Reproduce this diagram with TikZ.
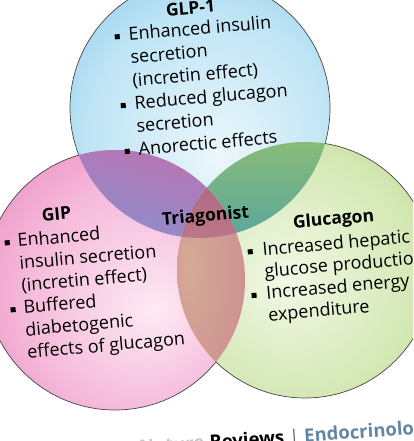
\documentclass[tikz,border=0pt]{standalone}
\usepackage{fontspec}
\setmainfont{Open Sans}
\definecolor{bA}{RGB}{236,247,252}
\definecolor{bB}{RGB}{190,228,245}
\definecolor{bC}{RGB}{120,192,230}
\definecolor{bD}{RGB}{64,155,210}
\definecolor{pA}{RGB}{253,234,244}
\definecolor{pB}{RGB}{245,185,218}
\definecolor{pC}{RGB}{234,125,184}
\definecolor{pD}{RGB}{215,78,152}
\definecolor{gA}{RGB}{242,248,230}
\definecolor{gB}{RGB}{212,232,180}
\definecolor{gC}{RGB}{172,208,124}
\definecolor{gD}{RGB}{135,182,80}
\definecolor{steel}{RGB}{98,134,164}
% overlap tints
\definecolor{bpT}{RGB}{190,112,176}
\definecolor{bpB}{RGB}{136,146,206}
\definecolor{bgT}{RGB}{140,188,118}
\definecolor{bgB}{RGB}{86,166,160}
\definecolor{pgA}{RGB}{212,170,150}
\definecolor{pgB}{RGB}{207,150,146}
\definecolor{pgC}{RGB}{208,112,148}
\definecolor{trT}{RGB}{172,104,130}
\definecolor{trB}{RGB}{190,120,138}
\pgfdeclareradialshading{bluesh}{\pgfpoint{4bp}{-10bp}}{color(0bp)=(bA); color(24bp)=(bB); color(42bp)=(bC); color(50bp)=(bD)}
\pgfdeclareradialshading{pinksh}{\pgfpoint{8bp}{-6bp}}{color(0bp)=(pA); color(22bp)=(pB); color(40bp)=(pC); color(50bp)=(pD)}
\pgfdeclareradialshading{greensh}{\pgfpoint{-4bp}{-2bp}}{color(0bp)=(gA); color(24bp)=(gB); color(42bp)=(gC); color(50bp)=(gD)}
\pgfdeclareradialshading{pgsh}{\pgfpoint{-12bp}{2bp}}{color(0bp)=(pgA); color(22bp)=(pgB); color(44bp)=(pgC); color(50bp)=(pgC)}
\newcommand{\bul}{\rule[2.5pt]{5pt}{5pt}}
\begin{document}
\begin{tikzpicture}[x=1pt,y=1pt,
  body/.style={font=\fontsize{18}{#1}\selectfont, rotate=5, inner sep=0pt, anchor=base west},
  ttl/.style={font=\bfseries\fontsize{17.5}{20}\selectfont, rotate=5, inner sep=0pt, anchor=base},
  foot/.style={font=\fontsize{18.5}{22}\selectfont, rotate=4, inner sep=0pt},
  rim/.style={draw=black!72, line width=0.7pt}]
\useasboundingbox (0,0) rectangle (413,441);
\clip (0,0) rectangle (413,441);
\coordinate (cB) at (200,333);
\coordinate (cP) at (115,161);
\coordinate (cG) at (305,171);
% single circles
\shade[shading=bluesh] (cB) circle[radius=130pt];
\shade[shading=greensh] (cG) circle[radius=128pt];
\shade[shading=pinksh] (cP) circle[radius=130pt];
% blue-green lens
\begin{scope}
  \clip (cG) circle[radius=128pt];
  \clip (cB) circle[radius=130pt];
  \shade[top color=bgT, bottom color=bgB] (170,196) rectangle (340,306);
\end{scope}
% blue-pink lens
\begin{scope}
  \clip (cP) circle[radius=130pt];
  \clip (cB) circle[radius=130pt];
  \shade[top color=bpT, bottom color=bpB, shading angle=-15] (60,195) rectangle (250,295);
\end{scope}
% pink-green lens
\begin{scope}
  \clip (cP) circle[radius=130pt];
  \clip (cG) circle[radius=128pt];
  \shade[shading=pgsh] (165,40) rectangle (255,290);
\end{scope}
% triple region
\begin{scope}
  \clip (cP) circle[radius=130pt];
  \clip (cG) circle[radius=128pt];
  \clip (cB) circle[radius=130pt];
  \shade[top color=trT, bottom color=trB] (170,195) rectangle (250,270);
\end{scope}
% outer rims
\begin{scope}[even odd rule]
  \clip (0,0) rectangle (413,441) (cP) circle[radius=130pt];
  \begin{scope}[even odd rule]
    \clip (0,0) rectangle (413,441) (cG) circle[radius=128pt];
    \draw[rim] (cB) circle[radius=130pt];
  \end{scope}
\end{scope}
\begin{scope}[even odd rule]
  \clip (0,0) rectangle (413,441) (cP) circle[radius=130pt];
  \begin{scope}[even odd rule]
    \clip (0,0) rectangle (413,441) (cB) circle[radius=130pt];
    \draw[rim] (cG) circle[radius=128pt];
  \end{scope}
\end{scope}
\begin{scope}[even odd rule]
  \clip (0,0) rectangle (413,441) (cB) circle[radius=130pt];
  \begin{scope}[even odd rule]
    \clip (0,0) rectangle (413,441) (cG) circle[radius=128pt];
    \draw[rim] (cP) circle[radius=130pt];
  \end{scope}
\end{scope}
% texts
\node[ttl] (tglp) at (191,427) {GLP-1};
\node[body=23] (glp) at (115,399) {\begin{tabular}[t]{@{}l@{\hspace{9pt}}l@{}}
\bul & Enhanced insulin\\ & secretion\\ & (incretin effect)\\
\bul & Reduced glucagon\\ & secretion\\ \bul & Anorectic effects\end{tabular}};
\node[ttl] (tgip) at (57,221) {GIP};
\node[body=22.4] (gip) at (5,193) {\begin{tabular}[t]{@{}l@{\hspace{8pt}}l@{}}
\bul & Enhanced\\ & insulin secretion\\ & (incretin effect)\\
\bul & Buffered\\ & diabetogenic\\ & effects of glucagon\end{tabular}};
\node[ttl] (ttri) at (206,219.6) {Triagonist};
\node[ttl] (tglu) at (334,216.4) {Glucagon};
\node[body=21.9] (glu) at (248,184) {\begin{tabular}[t]{@{}l@{\hspace{10pt}}l@{}}
\bul & Increased hepatic\\ & glucose production\\
\bul & Increased energy\\ & expenditure\end{tabular}};
% footer
\node[foot, anchor=base west] (rev) at (210,-8) {\bfseries Reviews\hspace{5pt}{\mdseries\color{black!60}|}\hspace{5pt}\textcolor{steel}{Endocrinology}};
\node[foot, anchor=base east, text=black!22] (nat) at ([xshift=-5pt]rev.base west) {\bfseries Nature};
\end{tikzpicture}
\end{document}
